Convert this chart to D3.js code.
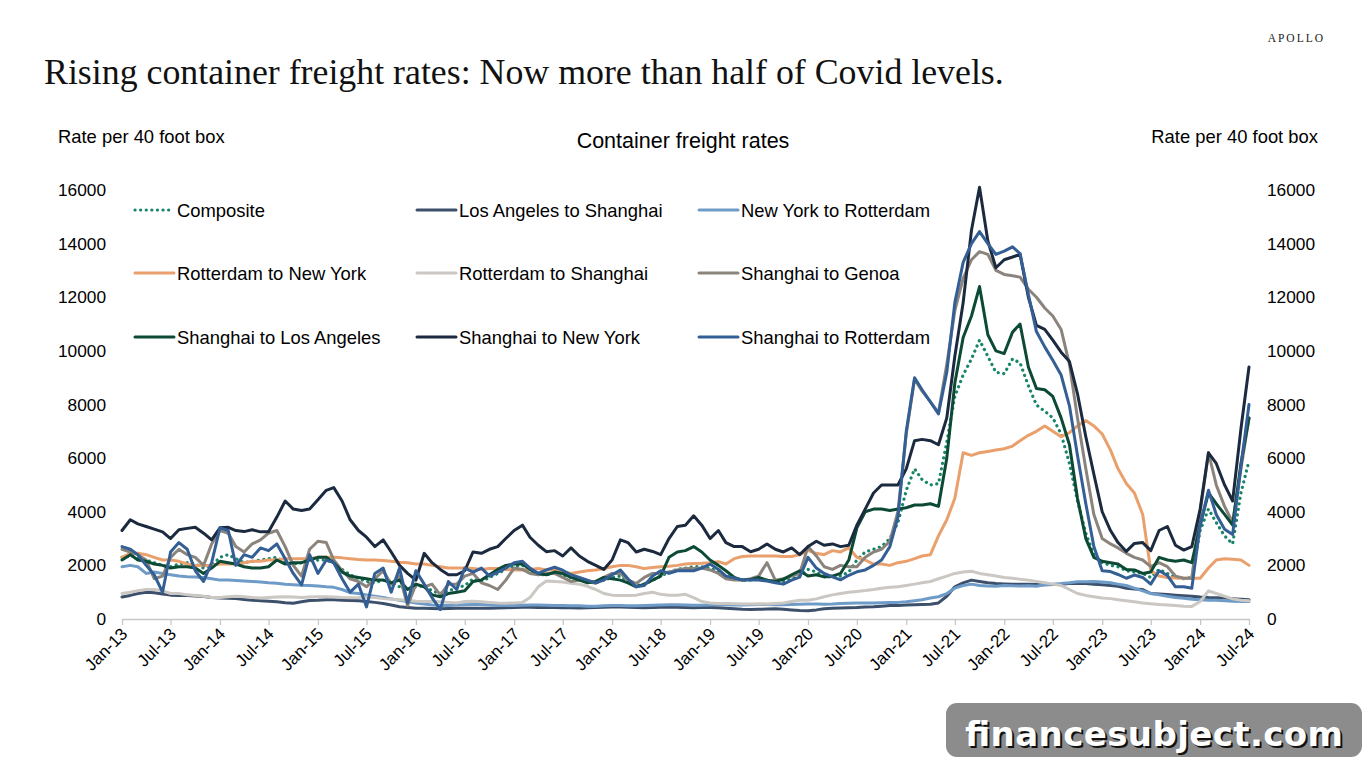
<!DOCTYPE html>
<html>
<head>
<meta charset="utf-8">
<script src="https://cdn.jsdelivr.net/npm/d3@7"></script>
<style>
  body { margin: 0; background: #fff; }
  svg { display: block; font-family: "Liberation Sans", Arial, sans-serif; }
</style>
</head>
<body>
<div id="chart"></div>
<script>
// Monthly readings from the chart, Jan-13 through Jul-24 (one row per year)
const firstMonth = new Date(2013, 0, 1);
const lastMonth = new Date(2024, 6, 1);
const yTicks = [0, 2000, 4000, 6000, 8000, 10000, 12000, 14000, 16000];

const seriesNames = [
    'Composite', 'Los Angeles to Shanghai', 'New York to Rotterdam',
    'Rotterdam to New York', 'Rotterdam to Shanghai', 'Shanghai to Genoa',
    'Shanghai to Los Angeles', 'Shanghai to New York', 'Shanghai to Rotterdam'
];

const composite = [
    2300, 2350, 2300, 2200, 2100, 2000, 1950, 2050, 2100, 2050, 1900, 2000,
    2300, 2400, 2250, 2100, 2150, 2200, 2250, 2300, 2100, 2050, 2100, 2150,
    2200, 2200, 2100, 1850, 1650, 1500, 1400, 1350, 1450, 1400, 1200, 1100,
    1200, 1250, 1050, 950, 1050, 1150, 1250, 1500, 1400, 1550, 1700, 1850,
    1950, 2000, 1800, 1650, 1650, 1700, 1650, 1550, 1500, 1400, 1350, 1450,
    1550, 1600, 1400, 1250, 1300, 1450, 1600, 1750, 1850, 1900, 1950, 1950,
    1900, 1750, 1600, 1500, 1450, 1450, 1500, 1450, 1400, 1400, 1500, 1600,
    1850, 1750, 1600, 1550, 1600, 1750, 2200, 2500, 2600, 2700, 3000, 3600,
    4800, 5600, 5200, 5000, 5050, 6600, 8300, 9100, 9700, 10400, 9800, 9200,
    9150, 9700, 9550, 8700, 7980, 7750, 7500, 6900, 5800, 4400, 3200, 2400,
    2100, 2000, 1950, 1800, 1750, 1700, 1550, 1850, 1700, 1550, 1500, 1550,
    3300, 4100, 3600, 3100, 2800, 4700, 5900
];

const laToShanghai = [
    820, 880, 950, 1000, 980, 930, 890, 880, 880, 860, 840, 800,
    780, 770, 760, 730, 700, 680, 660, 640, 610, 590, 640, 690,
    700, 720, 720, 700, 690, 680, 650, 620, 580, 520, 460, 430,
    400, 400, 390, 380, 390, 400, 400, 400, 400, 400, 410, 420,
    430, 440, 440, 430, 430, 430, 420, 420, 410, 420, 430, 440,
    450, 450, 440, 430, 420, 430, 440, 450, 440, 430, 420, 430,
    430, 420, 400, 380, 360, 350, 360, 370, 380, 360, 340, 320,
    310, 340, 380, 400, 410, 420, 430, 450, 460, 480, 500, 500,
    520, 530, 540, 550, 600, 850, 1200, 1350, 1450, 1400, 1350, 1320,
    1310, 1300, 1300, 1300, 1290, 1280, 1290, 1300, 1320, 1330, 1320, 1300,
    1280, 1250, 1220, 1150, 1120, 1100, 950, 930, 910, 890, 870, 850,
    820, 800, 790, 780, 760, 740, 720
];

const nyToRotterdam = [
    1950, 2000, 1950, 1700, 1750, 1700, 1650, 1600, 1580, 1570, 1550, 1500,
    1450, 1450, 1440, 1420, 1400, 1380, 1350, 1330, 1300, 1280, 1260, 1250,
    1230, 1200, 1180, 1100, 980, 950, 900, 850, 800, 750, 700, 650,
    600, 560, 520, 500, 500, 520, 530, 540, 540, 520, 510, 500,
    500, 510, 520, 520, 510, 500, 500, 490, 490, 480, 480, 490,
    500, 500, 490, 490, 500, 510, 520, 530, 530, 520, 510, 510,
    520, 530, 530, 520, 520, 530, 540, 540, 530, 530, 540, 550,
    560, 560, 550, 560, 580, 590, 600, 600, 600, 610, 620, 620,
    640, 680, 720, 780, 830, 950, 1150, 1250, 1300, 1250, 1230, 1220,
    1250, 1240, 1230, 1240, 1220, 1280, 1300, 1320, 1350, 1390, 1390, 1400,
    1380, 1350, 1300, 1250, 1150, 1050, 950, 900, 850, 800, 770, 740,
    720, 700, 700, 680, 660, 650, 650
];

const rotterdamToNy = [
    2300, 2450, 2450, 2400, 2300, 2200, 2200, 2150, 2050, 2000, 2000, 2000,
    2050, 2050, 2050, 2100, 2150, 2150, 2200, 2200, 2250, 2250, 2250, 2250,
    2300, 2300, 2300, 2280, 2250, 2220, 2200, 2200, 2180, 2150, 2120, 2100,
    2050, 2050, 2000, 1950, 1900, 1900, 1900, 1880, 1850, 1880, 1880, 1850,
    1830, 1830, 1850, 1880, 1830, 1830, 1750, 1700, 1750, 1800, 1830, 1880,
    1950, 2000, 2000, 1950, 1880, 1920, 1950, 1970, 2000, 2050, 2070, 2080,
    2100, 2140, 2050, 2250, 2330, 2350, 2350, 2350, 2350, 2330, 2330, 2400,
    2550, 2450, 2400, 2550, 2500, 2650, 2300, 2200, 2050, 2050, 2000, 2100,
    2150, 2250, 2350, 2400, 3100, 3700, 4500, 6200, 6100, 6200, 6250, 6300,
    6350, 6450, 6650, 6850, 7000, 7200, 7000, 6800, 6950, 7200, 7400, 7200,
    6900, 6300, 5600, 5050, 4700, 3900, 1800, 1600, 1550, 1530, 1520, 1520,
    1520, 1900, 2200, 2250, 2230, 2200, 2000
];

const rotterdamToShanghai = [
    950, 1000, 1050, 1100, 1100, 1050, 950, 950, 900, 880, 850, 800,
    800, 830, 850, 830, 800, 780, 800, 820, 830, 820, 800, 820,
    830, 830, 820, 800, 790, 800, 820, 800, 760, 740, 720, 700,
    660, 650, 650, 640, 620, 600, 650, 660, 640, 620, 600, 590,
    600, 620, 800, 1200, 1420, 1400, 1380, 1330, 1300, 1220, 1100, 950,
    890, 880, 880, 890, 950, 1000, 920, 890, 890, 920, 800, 650,
    600, 580, 580, 570, 560, 560, 570, 560, 580, 600, 650, 700,
    700, 750, 830, 900, 950, 1000, 1030, 1060, 1100, 1150, 1180, 1200,
    1250, 1300, 1350, 1400, 1500, 1600, 1700, 1750, 1780, 1700, 1650, 1600,
    1550, 1520, 1480, 1450, 1400, 1350, 1300, 1250, 1100, 950, 880, 830,
    780, 760, 720, 680, 640, 600, 570, 540, 520, 500, 480, 470,
    650, 1050, 950, 850, 750, 700, 680
];

const shanghaiToGenoa = [
    2600, 2500, 2400, 2200, 1500, 1600, 2300, 2600, 2400, 2300, 2000, 2800,
    3300, 3200, 2700, 2500, 2800, 2950, 3200, 3300, 2700, 2000, 1600, 2600,
    2900, 2850, 2200, 1800, 1500, 1400, 1200, 1500, 1800, 1300, 1600, 500,
    1300, 1200, 1300, 900, 1300, 1300, 1600, 1700, 1350, 1250, 1100, 1450,
    1900, 1850, 1700, 1650, 1700, 1700, 1550, 1400, 1450, 1400, 1330, 1550,
    1700, 1700, 1450, 1330, 1550, 1700, 1700, 1750, 1830, 1880, 1880, 1900,
    1830, 1700, 1500, 1450, 1450, 1500, 1600, 2100, 1450, 1500, 1600, 1700,
    2700, 2350, 1950, 1850, 2000, 1950, 1950, 2300, 2500, 2600, 2900, 4000,
    6900, 8950, 8500, 8100, 7700, 9500, 11500, 12700, 13400, 13700, 13600, 13000,
    12850, 12800, 12750, 12300, 12000, 11600, 11300, 10800, 9500, 7500, 5600, 3900,
    3000, 2800, 2650, 2450, 2300, 2200, 1950, 2100, 1950, 1600, 1520, 1520,
    4000, 6200, 5000, 4200, 3600, 5600, 7500
];

const shanghaiToLa = [
    2200, 2400, 2200, 2150, 2050, 2000, 1900, 1950, 1950, 1900, 1700, 1900,
    2150, 2100, 2050, 1950, 1900, 1900, 1950, 2200, 2050, 2100, 2100, 2200,
    2300, 2300, 2100, 1750, 1600, 1550, 1500, 1450, 1450, 1350, 1450, 1100,
    1300, 1200, 900, 830, 950, 1000, 1050, 1400, 1450, 1650, 1850, 2000,
    2050, 2050, 1850, 1700, 1650, 1750, 1700, 1550, 1450, 1350, 1400, 1550,
    1500, 1450, 1350, 1200, 1300, 1450, 1600, 2300, 2500, 2550, 2700, 2500,
    2200, 2000, 1800, 1550, 1450, 1470, 1550, 1450, 1400, 1480, 1650, 1800,
    1600, 1650, 1570, 1600, 1700, 2200, 3400, 4000, 4100, 4100, 4050, 4100,
    4150, 4250, 4250, 4300, 4200, 6000, 8800, 10500, 11300, 12400, 10600, 10000,
    9900, 10700, 11000, 9400, 8600, 8550, 8300, 7500, 6500, 4500, 3000, 2300,
    2150, 2100, 2050, 1850, 1830, 1700, 1750, 2300, 2200, 2150, 2200, 2100,
    3500, 4700, 4300, 3900, 3500, 5800, 7500
];

const shanghaiToNy = [
    3300, 3700, 3550, 3450, 3350, 3250, 3000, 3330, 3380, 3420, 3200, 2950,
    3400, 3420, 3300, 3260, 3330, 3250, 3250, 3800, 4400, 4100, 4050, 4100,
    4450, 4800, 4900, 4400, 3700, 3300, 3050, 2700, 2950, 2500, 2000, 1700,
    1450, 2450, 2100, 1850, 1650, 1650, 1800, 2500, 2450, 2600, 2700, 3000,
    3300, 3500, 3050, 2750, 2510, 2550, 2350, 2650, 2350, 2150, 2000, 1850,
    2200, 2950, 2850, 2500, 2600, 2520, 2400, 3000, 3450, 3500, 3850, 3500,
    3000, 3300, 2850, 2700, 2700, 2510, 2600, 2800, 2600, 2500, 2650, 2400,
    2700, 2900, 2750, 2800, 2700, 2750, 3500, 4100, 4700, 5000, 5000, 5000,
    5600, 6650, 6700, 6650, 6500, 7500, 9800, 11800, 14500, 16100, 14100, 13100,
    13400, 13500, 13600, 12000, 10950, 10800, 10400, 9950, 9600, 8400, 6800, 5400,
    4000, 3300, 2850, 2520, 2820, 2850, 2550, 3300, 3450, 2750, 2570, 2700,
    4100, 6200, 5800, 5000, 4400, 7100, 9400
];

const shanghaiToRotterdam = [
    2700, 2600, 2400, 2000, 1650, 1000, 2500, 2850, 2600, 1800, 1400, 2100,
    3400, 3300, 2000, 2400, 2300, 2650, 2550, 2800, 2250, 1700, 1270, 2400,
    1700, 2200, 2100, 1500, 1000, 1300, 450, 1700, 1900, 1000, 1900, 600,
    1800, 1300, 800, 350, 1400, 1100, 1900, 1750, 1900, 1600, 1750, 1900,
    2100, 2150, 1900, 1700, 1830, 1930, 1820, 1650, 1550, 1450, 1350, 1450,
    1650, 1830, 1500, 1200, 1250, 1600, 1800, 1700, 1800, 1800, 1800, 1900,
    2050, 1850, 1600, 1530, 1460, 1450, 1450, 1420, 1350, 1300, 1450, 1560,
    2300, 1900, 1700, 1570, 1460, 1630, 1760, 1830, 2000, 2200, 2700, 3800,
    7000, 9000, 8550, 8100, 7650, 9200, 11800, 13300, 14000, 14450, 14000, 13600,
    13720, 13880, 13630, 12100, 10720, 10150, 9650, 9100, 7950, 6100, 4300, 2700,
    1800, 1770, 1660, 1520, 1640, 1550, 1300, 1800, 1620, 1200, 1200, 1150,
    3500, 4800, 3900, 3350, 3150, 5700, 8000
];

const seriesValues = [
    composite, laToShanghai, nyToRotterdam, rotterdamToNy, rotterdamToShanghai,
    shanghaiToGenoa, shanghaiToLa, shanghaiToNy, shanghaiToRotterdam
];

// line colours, same order as seriesNames
const seriesColors = ['#17856a', '#3d506b', '#6e9bc8', '#e9a06c', '#cbc7c2',
    '#8b847d', '#0c4a35', '#1c2a3f', '#335f95'];

/**
 * Line chart of the container freight rates
 */
class FreightChart {

    constructor(_config, _data) {
        this.config = {
            parentElement: _config.parentElement,
            containerWidth: 1366,
            containerHeight: 768,
            // plot area in page pixels
            plot: { left: 122, right: 1249, top: 190, bottom: 619 }
        };
        this.data = _data;
        this.initVis();
    }

    initVis() {
        let vis = this;
        const p = vis.config.plot;

        vis.svg = d3.select(vis.config.parentElement)
            .append('svg')
            .attr('width', vis.config.containerWidth)
            .attr('height', vis.config.containerHeight);

        vis.xScale = d3.scaleTime()
            .domain([firstMonth, lastMonth])
            .range([p.left, p.right]);

        vis.yScale = d3.scaleLinear()
            .domain([0, 16000])
            .range([p.bottom, p.top]);

        // Header texts
        vis.title = vis.svg.append('text')
            .attr('x', 44)
            .attr('y', 84)
            .attr('font-family', '"Liberation Serif", "DejaVu Serif", serif')
            .attr('font-size', 32)
            .attr('fill', '#111')
            .text('Rising container freight rates: Now more than half of Covid levels.');
        // stretch the title to the width it has in the picture
        const titleLen = vis.title.node().getComputedTextLength();
        vis.title.attr('font-size', 32 * 960 / titleLen);

        vis.svg.append('text')
            .attr('x', 1325)
            .attr('y', 42)
            .attr('text-anchor', 'end')
            .attr('font-family', '"Liberation Serif", serif')
            .attr('font-size', 11.5)
            .attr('letter-spacing', 2)
            .attr('fill', '#222')
            .text('APOLLO');

        vis.svg.append('text')
            .attr('x', 683)
            .attr('y', 148)
            .attr('text-anchor', 'middle')
            .attr('font-size', 21.5)
            .text('Container freight rates');

        vis.svg.append('text')
            .attr('x', 58)
            .attr('y', 143)
            .attr('font-size', 18.4)
            .text('Rate per 40 foot box');

        vis.svg.append('text')
            .attr('x', 1318)
            .attr('y', 143)
            .attr('text-anchor', 'end')
            .attr('font-size', 18.4)
            .text('Rate per 40 foot box');

        vis.xAxisG = vis.svg.append('g')
            .attr('class', 'x-axis')
            .attr('transform', `translate(0,${p.bottom})`);
        vis.yAxisLeft = vis.svg.append('g')
            .attr('transform', `translate(${p.left - 16},0)`);
        vis.yAxisRight = vis.svg.append('g')
            .attr('transform', `translate(${p.right + 18},0)`);

        vis.line = d3.line()
            .x(d => vis.xScale(d.date))
            .y(d => vis.yScale(d.value));

        vis.linesG = vis.svg.append('g');
        vis.legendG = vis.svg.append('g');
    }

    updateVis() {
        let vis = this;

        // Axes
        const halfYears = d3.timeMonth.every(6).range(firstMonth, d3.timeMonth.offset(lastMonth, 1));
        const xAxis = d3.axisBottom(vis.xScale)
            .tickValues(halfYears)
            .tickFormat(d3.timeFormat('%b-%y'))
            .tickSize(6)
            .tickSizeOuter(0);
        vis.xAxisG.call(xAxis);
        vis.xAxisG.select('.domain').attr('stroke', '#c8c8c8').attr('stroke-width', 1.3);
        vis.xAxisG.selectAll('.tick line').attr('stroke', '#c8c8c8').attr('stroke-width', 1.3);
        vis.xAxisG.selectAll('.tick text')
            .attr('font-family', '"Liberation Sans", Arial, sans-serif')
            .attr('font-size', 17)
            .attr('fill', '#000')
            .attr('text-anchor', 'end')
            .attr('dy', 0)
            .attr('y', 0)
            .attr('transform', 'translate(6,16) rotate(-45)');

        const yFormat = d3.format('d');
        const yAxisL = d3.axisLeft(vis.yScale).tickValues(yTicks).tickFormat(yFormat).tickSize(0).tickPadding(0);
        const yAxisR = d3.axisRight(vis.yScale).tickValues(yTicks).tickFormat(yFormat).tickSize(0).tickPadding(0);
        [[vis.yAxisLeft, yAxisL], [vis.yAxisRight, yAxisR]].forEach(([g, ax]) => {
            g.call(ax);
            g.select('.domain').remove();
            g.selectAll('.tick text')
                .attr('font-family', '"Liberation Sans", Arial, sans-serif')
                .attr('font-size', 17.3)
                .attr('fill', '#000');
        });

        // Lines
        vis.linesG.selectAll('.series')
            .data(vis.data)
            .join('path')
            .attr('class', 'series')
            .attr('fill', 'none')
            .attr('stroke', d => d.color)
            .attr('stroke-width', d => d.dotted ? 3.2 : 3)
            .attr('stroke-linejoin', 'round')
            .attr('stroke-linecap', 'round')
            .attr('stroke-dasharray', d => d.dotted ? '0.1 5.5' : null)
            .attr('d', d => vis.line(d.values));

        // Legend: three columns, three rows
        const colX = [135, 417, 699];
        const rowY = [210, 273, 337];
        const items = vis.legendG.selectAll('.legend-item')
            .data(vis.data)
            .join('g')
            .attr('class', 'legend-item')
            .attr('transform', (d, i) => `translate(${colX[i % 3]},${rowY[Math.floor(i / 3)]})`);

        items.append('line')
            .attr('x1', 0)
            .attr('x2', 39)
            .attr('stroke', d => d.color)
            .attr('stroke-width', d => d.dotted ? 3.2 : 3)
            .attr('stroke-linecap', 'round')
            .attr('stroke-dasharray', d => d.dotted ? '0.1 5.5' : null);

        items.append('text')
            .attr('x', 42)
            .attr('y', 6.5)
            .attr('font-size', 18.4)
            .attr('fill', '#000')
            .text(d => d.name);

        // Site watermark in the lower right corner
        const wm = vis.svg.append('g');
        wm.append('rect')
            .attr('x', 946).attr('y', 703)
            .attr('width', 416).attr('height', 54)
            .attr('rx', 11)
            .attr('fill', '#8c8c8c');
        const wmText = 'financesubject.com';
        wm.append('text')
            .attr('x', 967).attr('y', 748)
            .attr('font-family', '"DejaVu Sans", sans-serif')
            .attr('font-weight', 'bold')
            .attr('font-size', 34)
            .attr('textLength', 378)
            .attr('fill', '#111')
            .text(wmText);
        wm.append('text')
            .attr('x', 965).attr('y', 746)
            .attr('font-family', '"DejaVu Sans", sans-serif')
            .attr('font-weight', 'bold')
            .attr('font-size', 34)
            .attr('textLength', 378)
            .attr('fill', '#fff')
            .text(wmText);
    }
}

const months = d3.timeMonth.range(firstMonth, d3.timeMonth.offset(lastMonth, 1));
const chartData = seriesNames.map((name, i) => ({
    name: name,
    color: seriesColors[i],
    dotted: i === 0,
    values: seriesValues[i].map((v, j) => ({ date: months[j], value: v }))
}));

const chart = new FreightChart({ parentElement: '#chart' }, chartData);
chart.updateVis();
</script>
</body>
</html>
